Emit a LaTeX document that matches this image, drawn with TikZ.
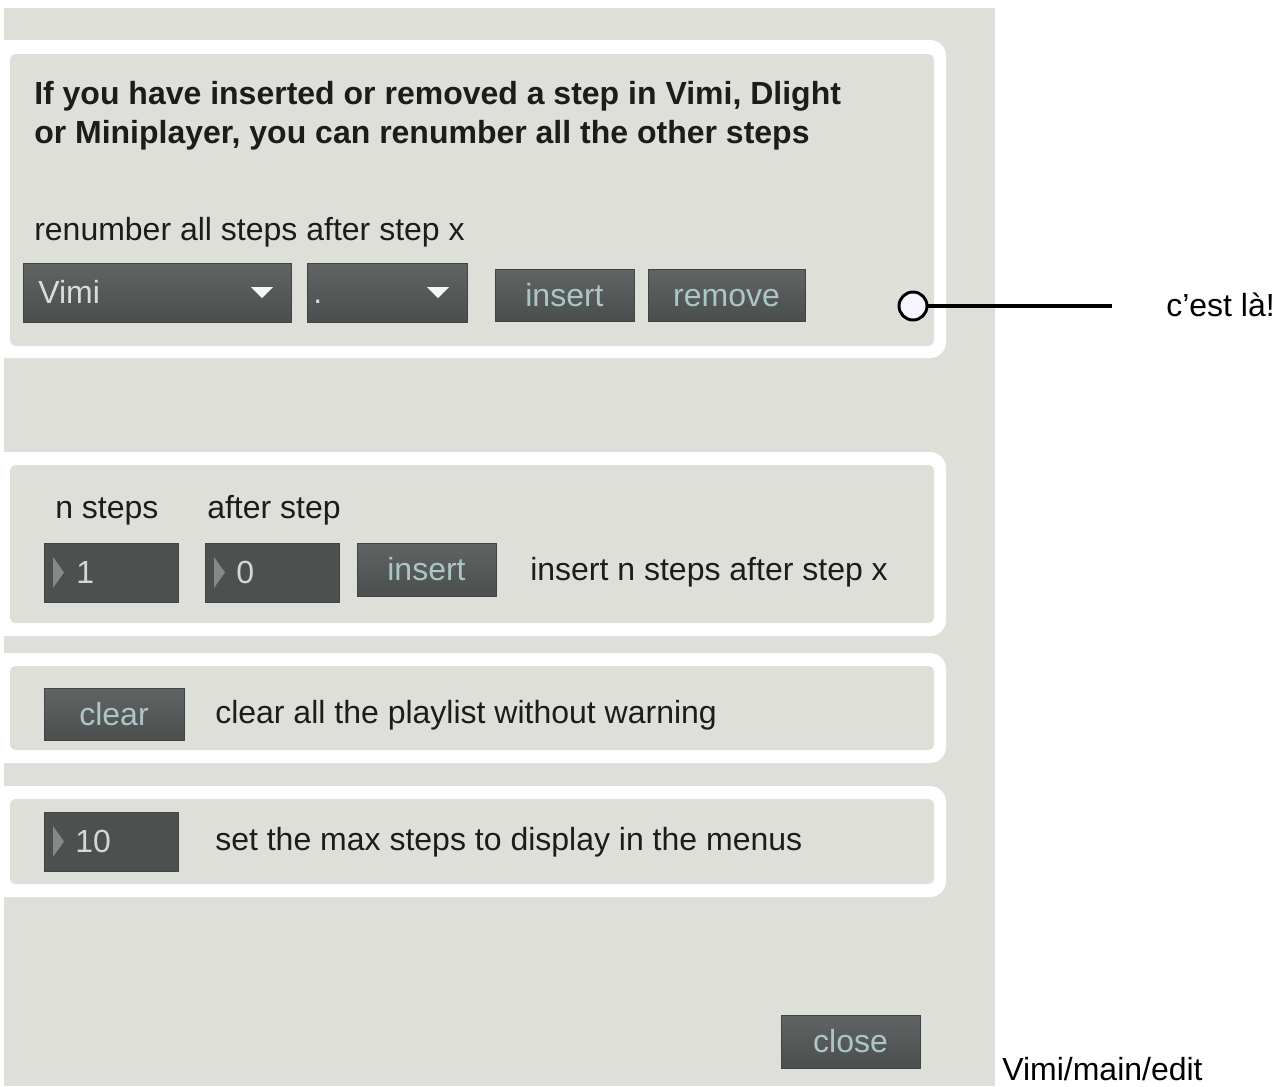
\documentclass[tikz,border=0pt]{standalone}
\usepackage{fontspec}
\setmainfont{Liberation Sans}
\definecolor{bggray}{HTML}{DFDFDA}
\definecolor{btntop}{HTML}{606464}
\definecolor{btnbot}{HTML}{4A4E4D}
\definecolor{btnedge}{HTML}{404443}
\definecolor{btntext}{HTML}{AAC6C6}
\definecolor{ddtext}{HTML}{DADDDD}
\definecolor{numfill}{HTML}{4C504E}
\definecolor{numtri}{HTML}{858988}
\definecolor{numtext}{HTML}{D4D7D7}
\definecolor{ink}{HTML}{1C1C1C}
\tikzset{
  fnt/.style={font=\fontsize{24}{28}\selectfont},
  btn/.style={fnt, draw=btnedge, line width=0.6pt, top color=btntop, bottom color=btnbot,
    text=btntext, inner sep=0pt, text height=17pt, text depth=0pt},
  ddbox/.style={draw=btnedge, line width=0.6pt, top color=btntop, bottom color=btnbot,
    inner sep=0pt, minimum width=#1, minimum height=44.25pt},
  numbox/.style={draw=btnedge, line width=0.6pt, fill=numfill, inner sep=0pt,
    minimum width=100.5pt, minimum height=44.25pt},
  lbl/.style={fnt, text=ink, inner sep=0pt, anchor=base west},
  lblb/.style={fnt, text=ink, inner sep=0pt, anchor=base west, font=\fontsize{24}{28}\selectfont\bfseries},
  wtxt/.style={fnt, inner sep=0pt, anchor=base west},
  outer/.style={fill=white, rounded corners=12pt},
  inner/.style={fill=bggray, rounded corners=4pt},
}
\begin{document}
\begin{tikzpicture}[x=0.75pt,y=-0.75pt]
\useasboundingbox (0,0) rectangle (1280,1086);
\clip (0,0) rectangle (1280,1086);
\fill[white] (0,0) rectangle (1280,1086);
\fill[bggray] (4,8) rectangle (995,1086);
% panels
\fill[outer] (-30,40) rectangle (946,358);
\fill[inner] (10,54) rectangle (934,346);
\fill[outer] (-30,452) rectangle (946,636);
\fill[inner] (10,465) rectangle (934,623);
\fill[outer] (-30,653) rectangle (946,763);
\fill[inner] (10,666) rectangle (934,750);
\fill[outer] (-30,786) rectangle (946,897);
\fill[inner] (10,799) rectangle (934,884);
% panel 1
\node[lblb] (title1) at (34,104) {If you have inserted or removed a step in Vimi, Dlight};
\node[lblb] (title2) at (34,143) {or Miniplayer, you can renumber all the other steps};
\node[lbl] (renum) at (34,240) {renumber all steps after step x};
\node[ddbox=201pt] (dd1) at (157,292.5) {};
\node[wtxt, text=ddtext] (dd1t) at (38,303) {Vimi};
\fill[white!94!gray] (251,287) -- (273,287) -- (262,298) -- cycle;
\node[ddbox=120pt] (dd2) at (387,292.5) {};
\node[wtxt, text=ddtext] (dd2t) at (313,303) {.};
\fill[white!94!gray] (427,287) -- (449,287) -- (438,298) -- cycle;
\node[btn, minimum width=104.25pt, minimum height=39pt] (ins1) at (564.5,295) {insert};
\node[btn, minimum width=117.75pt, minimum height=39pt] (rem) at (726.5,295) {remove};
% callout
\node[circle, draw=black, line width=2.2pt, fill=white!96!blue, minimum size=21pt, inner sep=0pt] (dot) at (913,306) {};
\coordinate (lend) at (1112,306);
\draw[line width=3pt] (dot) -- (lend);
\node[wtxt, text=black] (cest) at (1166,316) {c’est là!};
% panel 2
\node[lbl] (nsteps) at (55,518) {n steps};
\node[lbl] (after) at (207,518) {after step};
\node[numbox] (nb1) at (111,572.5) {};
\fill[numtri] (53,557) -- (64,572.5) -- (53,588) -- cycle;
\node[wtxt, text=numtext] (nb1t) at (76,583) {1};
\node[numbox] (nb2) at (272,572.5) {};
\fill[numtri] (214,557) -- (225,572.5) -- (214,588) -- cycle;
\node[wtxt, text=numtext] (nb2t) at (236,583) {0};
\node[btn, minimum width=104.25pt, minimum height=39.75pt] (ins2) at (426.5,569.5) {insert};
\node[lbl] (instxt) at (530,580) {insert n steps after step x};
% panel 3
\node[btn, minimum width=105pt, minimum height=39pt] (clr) at (114,714) {clear};
\node[lbl] (clrtxt) at (215,723) {clear all the playlist without warning};
% panel 4
\node[numbox] (nb3) at (111,841.5) {};
\fill[numtri] (53,826) -- (64,841.5) -- (53,857) -- cycle;
\node[wtxt, text=numtext] (nb3t) at (75,852) {10};
\node[lbl] (maxtxt) at (215,850) {set the max steps to display in the menus};
% close
\node[btn, minimum width=104.25pt, minimum height=39.75pt] (close) at (850.5,1041.5) {close};
\node[wtxt, text=black] (path) at (1002,1080) {Vimi/main/edit};
\end{tikzpicture}
\end{document}
